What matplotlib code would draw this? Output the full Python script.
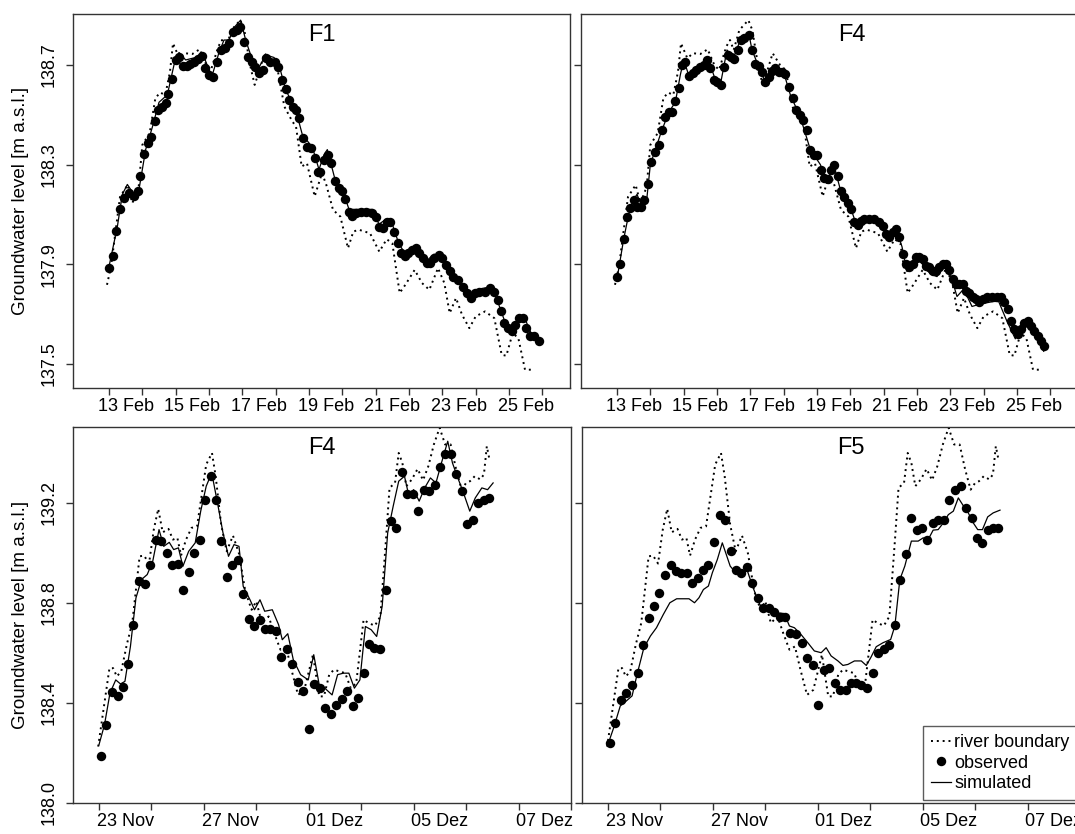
import matplotlib
matplotlib.use("Agg")
import matplotlib.pyplot as plt
from matplotlib.lines import Line2D

plt.rcParams['font.family'] = ['Liberation Sans', 'DejaVu Sans']

# ---------------- data (days after 13 Feb 00:00) ----------------
feb_labels = ["13 Feb", "15 Feb", "17 Feb", "19 Feb", "21 Feb", "23 Feb", "25 Feb"]

feb_river_day = [-0.06, 0.06, 0.33, 0.56, 0.7, 0.89, 1.0, 1.22, 1.39, 1.53, 1.69, 1.83, 1.92, 2.11, 2.28, 2.5,
                 2.72, 2.92, 3.06, 3.28, 3.39, 3.5, 3.67, 3.94, 4.06, 4.22, 4.37, 4.5, 4.67, 4.89, 5.06, 5.26,
                 5.5, 5.61, 5.78, 5.94, 6.17, 6.39, 6.52, 6.72, 6.94, 7.17, 7.33, 7.5, 7.83, 8.11, 8.33, 8.5,
                 8.72, 8.89, 9.17, 9.39, 9.61, 9.87, 10.06, 10.22, 10.41, 10.59, 10.81, 11.0, 11.28, 11.56,
                 11.78, 11.92, 12.11, 12.28, 12.48, 12.72]
feb_river = [137.817, 137.89, 138.17, 138.218, 138.145, 138.21, 138.379, 138.426, 138.566, 138.589, 138.58,
             138.673, 138.787, 138.727, 138.747, 138.744, 138.763, 138.70, 138.68, 138.774, 138.80, 138.76,
             138.84, 138.88, 138.84, 138.707, 138.62, 138.673, 138.747, 138.70, 138.68, 138.533, 138.473,
             138.453, 138.292, 138.305, 138.172, 138.266, 138.218, 138.118, 138.091, 137.964, 138.031,
             138.038, 138.024, 137.95, 138.0, 137.984, 137.784, 137.817, 137.877, 137.824, 137.797, 137.884,
             137.824, 137.703, 137.764, 137.697, 137.643, 137.69, 137.71, 137.683, 137.536, 137.532, 137.623,
             137.603, 137.476, 137.476]

feb_obs_day_F1 = [0.0, 0.11, 0.22, 0.33, 0.44, 0.61, 0.74, 0.86, 0.94, 1.06, 1.17, 1.26, 1.37, 1.48, 1.59,
                  1.70, 1.78, 1.89, 2.0, 2.11, 2.22, 2.33, 2.44, 2.56, 2.67, 2.78, 2.89, 3.0, 3.11, 3.24,
                  3.36, 3.47, 3.61, 3.72, 3.83, 3.94, 4.06, 4.17, 4.28, 4.39, 4.5, 4.61, 4.72, 4.83, 4.97,
                  5.08, 5.19, 5.3, 5.41, 5.52, 5.61, 5.70, 5.83, 5.94, 6.06, 6.17, 6.26, 6.34, 6.46, 6.57,
                  6.67, 6.78, 6.89, 7.0, 7.09, 7.19, 7.30, 7.41, 7.56, 7.72, 7.89, 8.0, 8.11, 8.22, 8.33,
                  8.44, 8.56, 8.67, 8.76, 8.87, 8.98, 9.09, 9.2, 9.31, 9.42, 9.53, 9.64, 9.76, 9.89, 10.0,
                  10.11, 10.22, 10.33, 10.48, 10.61, 10.74, 10.86, 10.97, 11.11, 11.28, 11.44, 11.56, 11.67,
                  11.76, 11.86, 11.97, 12.08, 12.19, 12.3, 12.41, 12.52, 12.63, 12.74, 12.89]
feb_obs_F1 = [137.884, 137.933, 138.034, 138.122, 138.165, 138.185, 138.172, 138.192, 138.252, 138.343,
              138.386, 138.412, 138.473, 138.519, 138.533, 138.546, 138.582, 138.642, 138.72, 138.733,
              138.696, 138.696, 138.704, 138.713, 138.723, 138.736, 138.687, 138.66, 138.653, 138.713,
              138.76, 138.77, 138.787, 138.834, 138.84, 138.854, 138.794, 138.733, 138.713, 138.693,
              138.667, 138.68, 138.727, 138.713, 138.713, 138.693, 138.64, 138.602, 138.56, 138.533,
              138.519, 138.486, 138.406, 138.372, 138.366, 138.326, 138.272, 138.272, 138.319, 138.339,
              138.305, 138.232, 138.205, 138.192, 138.161, 138.111, 138.094, 138.107, 138.111, 138.111,
              138.105, 138.091, 138.051, 138.044, 138.071, 138.071, 138.031, 137.984, 137.944, 137.931,
              137.944, 137.958, 137.964, 137.944, 137.924, 137.904, 137.904, 137.924, 137.937, 137.924,
              137.897, 137.871, 137.85, 137.837, 137.81, 137.784, 137.764, 137.786, 137.79, 137.79,
              137.804, 137.79, 137.757, 137.71, 137.663, 137.643, 137.63, 137.657, 137.682, 137.682,
              137.643, 137.61, 137.61, 137.59]

feb_sim_day_F1 = [0.0, 0.25, 0.4, 0.55, 0.75, 0.9, 1.1, 1.3, 1.5, 1.75, 1.95, 2.1, 2.3, 2.6, 2.8, 3.0, 3.1,
                  3.3, 3.45, 3.6, 3.75, 3.95, 4.1, 4.3, 4.5, 4.7, 4.95, 5.1, 5.3, 5.6, 5.8, 6.1, 6.3, 6.45,
                  6.55, 6.8, 7.0, 7.2, 7.4, 7.9, 8.1, 8.3, 8.45, 8.7, 8.9, 9.2, 9.5, 9.75, 10.0, 10.3, 10.6,
                  10.85, 11.1, 11.5, 11.9, 12.1, 12.3, 12.45, 12.7, 12.9]
feb_sim_F1 = [137.89, 138.05, 138.18, 138.22, 138.18, 138.20, 138.36, 138.45, 138.55, 138.58, 138.70, 138.75,
              138.72, 138.73, 138.75, 138.68, 138.66, 138.75, 138.80, 138.80, 138.85, 138.88, 138.80, 138.72,
              138.69, 138.74, 138.73, 138.70, 138.60, 138.52, 138.42, 138.37, 138.28, 138.34, 138.36, 138.23,
              138.20, 138.12, 138.12, 138.12, 138.06, 138.08, 138.08, 137.98, 137.94, 137.97, 137.91, 137.94,
              137.93, 137.86, 137.81, 137.77, 137.80, 137.81, 137.66, 137.63, 137.69, 137.69, 137.61, 137.59]

feb_obs_day_F4 = [0.0, 0.1, 0.2, 0.3, 0.4, 0.5, 0.6, 0.73, 0.82, 0.92, 1.02, 1.15, 1.25, 1.35, 1.45, 1.55,
                  1.65, 1.75, 1.85, 1.95, 2.05, 2.17, 2.27, 2.37, 2.5, 2.6, 2.7, 2.8, 2.9, 3.0, 3.12, 3.22,
                  3.32, 3.42, 3.52, 3.62, 3.72, 3.82, 3.95, 4.05, 4.15, 4.25, 4.35, 4.45, 4.55, 4.65, 4.75,
                  4.85, 4.95, 5.05, 5.15, 5.28, 5.38, 5.48, 5.58, 5.7, 5.8, 5.9, 6.0, 6.12, 6.22, 6.32, 6.42,
                  6.52, 6.62, 6.72, 6.82, 6.92, 7.02, 7.12, 7.22, 7.32, 7.42, 7.55, 7.7, 7.85, 7.97, 8.07,
                  8.17, 8.27, 8.37, 8.47, 8.57, 8.67, 8.77, 8.87, 8.97, 9.07, 9.17, 9.27, 9.37, 9.47, 9.57,
                  9.67, 9.77, 9.87, 9.97, 10.07, 10.17, 10.27, 10.37, 10.47, 10.57, 10.67, 10.77, 10.87,
                  10.97, 11.1, 11.25, 11.4, 11.52, 11.62, 11.72, 11.82, 11.92, 12.02, 12.12, 12.22, 12.32,
                  12.42, 12.52, 12.62, 12.72, 12.82]
feb_obs_F4 = [137.847, 137.90, 138.0, 138.089, 138.127, 138.159, 138.129, 138.129, 138.159, 138.22, 138.311,
              138.351, 138.38, 138.44, 138.489, 138.513, 138.513, 138.556, 138.609, 138.70, 138.711, 138.657,
              138.669, 138.68, 138.693, 138.70, 138.72, 138.687, 138.64, 138.633, 138.62, 138.693, 138.74,
              138.733, 138.724, 138.76, 138.80, 138.807, 138.82, 138.76, 138.703, 138.696, 138.671, 138.633,
              138.653, 138.676, 138.689, 138.673, 138.671, 138.663, 138.613, 138.567, 138.52, 138.50, 138.48,
              138.44, 138.36, 138.34, 138.34, 138.28, 138.244, 138.24, 138.28, 138.30, 138.253, 138.193,
              138.169, 138.147, 138.12, 138.071, 138.057, 138.073, 138.08, 138.08, 138.08, 138.071, 138.053,
              138.02, 138.009, 138.029, 138.04, 138.009, 137.94, 137.90, 137.887, 137.90, 137.927, 137.927,
              137.92, 137.893, 137.887, 137.873, 137.873, 137.887, 137.90, 137.90, 137.876, 137.84, 137.82,
              137.82, 137.82, 137.793, 137.783, 137.769, 137.76, 137.747, 137.76, 137.769, 137.769, 137.769,
              137.767, 137.747, 137.72, 137.671, 137.64, 137.62, 137.64, 137.663, 137.671, 137.653, 137.633,
              137.613, 137.593, 137.573]

feb_sim_day_F4 = [0.0, 0.2, 0.35, 0.5, 0.6, 0.75, 0.9, 1.0, 1.3, 1.55, 1.75, 1.9, 2.0, 2.15, 2.6, 2.75, 2.95,
                  3.1, 3.3, 3.5, 3.7, 3.95, 4.05, 4.35, 4.5, 4.7, 5.0, 5.2, 5.5, 5.8, 6.1, 6.3, 6.5, 6.7, 7.0,
                  7.2, 7.35, 7.9, 8.2, 8.4, 8.55, 8.7, 8.9, 9.1, 9.4, 9.6, 9.85, 10.0, 10.2, 10.4, 10.65,
                  10.9, 11.3, 11.45, 11.7, 11.95, 12.2, 12.4, 12.6, 12.8]
feb_sim_F4 = [137.84, 138.0, 138.10, 138.16, 138.18, 138.13, 138.17, 138.30, 138.42, 138.51, 138.55, 138.66,
              138.72, 138.66, 138.70, 138.72, 138.64, 138.62, 138.76, 138.73, 138.80, 138.83, 138.76, 138.66,
              138.62, 138.69, 138.67, 138.58, 138.49, 138.36, 138.30, 138.23, 138.30, 138.20, 138.13, 138.05,
              138.08, 138.06, 138.01, 138.03, 137.97, 137.87, 137.90, 137.91, 137.86, 137.85, 137.90, 137.86,
              137.77, 137.80, 137.73, 137.74, 137.75, 137.75, 137.67, 137.60, 137.66, 137.64, 137.60, 137.55]

# ---------------- data (days after 22 Nov 00:00) ----------------
nov_labels = ["23 Nov", "27 Nov", "01 Dez", "05 Dez", "07 Dez"]

nov_river_day = [-0.03, 0.40, 0.54, 0.68, 0.85, 1.06, 1.27, 1.55, 1.72, 1.91, 2.09, 2.26, 2.43, 2.65, 2.82,
                 2.99, 3.13, 3.32, 3.53, 3.74, 4.09, 4.31, 4.45, 4.66, 4.87, 5.11, 5.34, 5.58, 5.82, 6.0,
                 6.21, 6.47, 6.66, 6.92, 7.13, 7.34, 7.59, 7.83, 8.16, 8.4, 8.58, 8.78, 8.96, 9.17, 9.39,
                 9.6, 9.81, 10.09, 10.28, 10.52, 10.73, 10.94, 11.08, 11.29, 11.43, 11.57, 11.72, 11.93,
                 12.15, 12.36, 12.56, 12.77, 12.99, 13.2, 13.41, 13.62, 13.83, 14.0, 14.15, 14.33, 14.54,
                 14.68, 14.79, 14.89]
nov_river = [138.224, 138.538, 138.538, 138.505, 138.525, 138.632, 138.719, 138.986, 138.989, 138.957,
             139.093, 139.176, 139.082, 139.096, 139.053, 139.06, 138.989, 139.053, 139.1, 139.106, 139.354,
             139.40, 139.307, 139.113, 139.006, 139.069, 138.997, 138.846, 138.772, 138.806, 138.719, 138.745,
             138.685, 138.612, 138.625, 138.532, 138.431, 138.451, 138.592, 138.425, 138.425, 138.512,
             138.532, 138.525, 138.518, 138.458, 138.478, 138.732, 138.719, 138.708, 138.745, 139.046, 139.26,
             139.28, 139.40, 139.36, 139.267, 139.294, 139.336, 139.291, 139.347, 139.434, 139.501, 139.434,
             139.434, 139.334, 139.253, 139.28, 139.287, 139.307, 139.294, 139.314, 139.427, 139.374]

nov_obs_day_F4 = [0.07, 0.28, 0.49, 0.71, 0.92, 1.10, 1.31, 1.52, 1.74, 1.95, 2.16, 2.37, 2.58, 2.80, 3.01,
                  3.20, 3.42, 3.63, 3.84, 4.05, 4.26, 4.47, 4.66, 4.87, 5.08, 5.29, 5.50, 5.72, 5.93, 6.14,
                  6.32, 6.53, 6.74, 6.96, 7.17, 7.38, 7.59, 7.79, 8.02, 8.21, 8.41, 8.62, 8.84, 9.05, 9.26,
                  9.47, 9.67, 9.88, 10.09, 10.28, 10.49, 10.73, 10.94, 11.15, 11.33, 11.55, 11.76, 11.97,
                  12.18, 12.39, 12.59, 12.80, 13.01, 13.20, 13.41, 13.62, 13.83, 14.04, 14.26, 14.47,
                  14.68, 14.89]
nov_obs_F4 = [138.188, 138.311, 138.441, 138.427, 138.462, 138.556, 138.712, 138.886, 138.876, 138.953,
              139.05, 139.046, 138.999, 138.953, 138.957, 138.852, 138.923, 138.999, 139.05, 139.213, 139.307,
              139.213, 139.046, 138.903, 138.953, 138.973, 138.836, 138.735, 138.705, 138.729, 138.695,
              138.695, 138.685, 138.582, 138.614, 138.556, 138.481, 138.445, 138.294, 138.475, 138.458,
              138.378, 138.355, 138.391, 138.414, 138.447, 138.387, 138.418, 138.518, 138.634, 138.618,
              138.614, 138.852, 139.129, 139.10, 139.323, 139.236, 139.236, 139.167, 139.253, 139.247,
              139.27, 139.344, 139.397, 139.397, 139.316, 139.247, 139.117, 139.133, 139.20, 139.211, 139.22]

nov_sim_day_F4 = [0.0, 0.21, 0.42, 0.64, 0.82, 0.99, 1.2, 1.41, 1.62, 1.84, 2.05, 2.29, 2.47, 2.68, 2.85,
                  3.03, 3.20, 3.42, 3.67, 3.88, 4.09, 4.30, 4.52, 4.73, 4.94, 5.15, 5.34, 5.5, 5.76, 5.93,
                  6.14, 6.32, 6.61, 6.85, 6.99, 7.2, 7.41, 7.69, 7.98, 8.19, 8.4, 8.61, 8.89, 9.1, 9.32,
                  9.53, 9.74, 9.95, 10.16, 10.38, 10.59, 10.8, 11.01, 11.22, 11.43, 11.65, 11.82, 12.0,
                  12.21, 12.42, 12.64, 12.85, 13.06, 13.3, 13.48, 13.66, 13.9, 14.14, 14.35, 14.6, 14.82,
                  15.03]
nov_sim_F4 = [138.231, 138.311, 138.438, 138.491, 138.475, 138.485, 138.625, 138.819, 138.893, 138.913,
              138.966, 139.093, 139.026, 139.042, 139.013, 139.02, 138.946, 139.006, 139.04, 139.167, 139.267,
              139.32, 139.20, 139.08, 138.986, 139.033, 139.026, 138.866, 138.812, 138.772, 138.812, 138.766,
              138.772, 138.712, 138.652, 138.676, 138.572, 138.512, 138.491, 138.592, 138.471, 138.458,
              138.431, 138.512, 138.518, 138.518, 138.458, 138.491, 138.705, 138.692, 138.665, 138.786,
              139.08, 139.187, 139.287, 139.307, 139.227, 139.253, 139.207, 139.26, 139.30, 139.28, 139.36,
              139.447, 139.36, 139.307, 139.24, 139.167, 139.22, 139.26, 139.253, 139.28]

nov_obs_day_F5 = [0.06, 0.28, 0.50, 0.70, 0.92, 1.14, 1.34, 1.56, 1.75, 1.96, 2.17, 2.39, 2.6, 2.79, 3.0,
                  3.22, 3.43, 3.64, 3.83, 4.05, 4.27, 4.47, 4.68, 4.89, 5.09, 5.30, 5.51, 5.73, 5.93, 6.15,
                  6.34, 6.56, 6.76, 6.95, 7.17, 7.39, 7.59, 7.81, 8.0, 8.23, 8.42, 8.64, 8.85, 9.06, 9.28,
                  9.47, 9.66, 9.89, 10.11, 10.3, 10.51, 10.72, 10.94, 11.13, 11.36, 11.57, 11.77, 11.96,
                  12.17, 12.38, 12.59, 12.81, 13.02, 13.23, 13.45, 13.65, 13.87, 14.06, 14.28, 14.48,
                  14.68, 14.89]
nov_obs_F5 = [138.24, 138.32, 138.409, 138.44, 138.469, 138.52, 138.629, 138.74, 138.789, 138.84, 138.911,
              138.951, 138.929, 138.92, 138.92, 138.88, 138.90, 138.931, 138.951, 139.043, 139.151, 139.131,
              139.009, 138.933, 138.92, 138.943, 138.88, 138.82, 138.78, 138.78, 138.763, 138.744, 138.744,
              138.68, 138.673, 138.64, 138.58, 138.549, 138.389, 138.531, 138.54, 138.48, 138.449, 138.449,
              138.477, 138.477, 138.469, 138.46, 138.52, 138.60, 138.613, 138.629, 138.709, 138.891, 138.997,
              139.14, 139.091, 139.10, 139.051, 139.12, 139.131, 139.131, 139.211, 139.251, 139.269, 139.18,
              139.14, 139.06, 139.04, 139.091, 139.10, 139.10]

nov_sim_day_F5 = [0.0, 0.22, 0.47, 0.66, 0.92, 1.11, 1.37, 1.62, 1.85, 2.11, 2.36, 2.62, 2.9, 3.09, 3.30,
                  3.47, 3.64, 3.83, 3.98, 4.17, 4.36, 4.49, 4.66, 4.87, 5.07, 5.30, 5.51, 5.73, 5.89, 6.09,
                  6.40, 6.72, 6.92, 7.11, 7.36, 7.62, 7.87, 8.13, 8.32, 8.51, 8.77, 8.96, 9.15, 9.40, 9.66,
                  9.85, 10.02, 10.23, 10.49, 10.78, 10.94, 11.13, 11.32, 11.57, 11.83, 12.02, 12.21, 12.40,
                  12.59, 12.79, 12.98, 13.17, 13.36, 13.56, 13.74, 13.93, 14.10, 14.28, 14.48, 14.69, 14.95]
nov_sim_F5 = [138.233, 138.30, 138.387, 138.403, 138.427, 138.513, 138.62, 138.667, 138.70, 138.753, 138.80,
              138.816, 138.816, 138.816, 138.80, 138.82, 138.853, 138.867, 138.92, 138.973, 139.04, 139.0,
              138.947, 138.92, 138.907, 138.933, 138.867, 138.807, 138.773, 138.767, 138.76, 138.757,
              138.707, 138.70, 138.673, 138.64, 138.607, 138.60, 138.62, 138.587, 138.567, 138.549, 138.553,
              138.567, 138.567, 138.549, 138.58, 138.624, 138.64, 138.653, 138.707, 138.893, 138.947, 139.047,
              139.047, 139.06, 139.053, 139.091, 139.093, 139.12, 139.153, 139.167, 139.22, 139.187, 139.16,
              139.12, 139.093, 139.093, 139.144, 139.16, 139.171]

legend_labels = ["river boundary", "observed", "simulated"]

# ---------------- figure ----------------
W, H = 1075, 834
fig = plt.figure(figsize=(W / 100, H / 100), dpi=100)


def px_axes(left, top, right, bottom):
    return fig.add_axes([left / W, 1 - bottom / H, (right - left) / W, (bottom - top) / H])


ax_tl = px_axes(73, 14, 570, 388)
ax_tr = px_axes(581, 14, 1078, 388)
ax_bl = px_axes(73, 427, 571, 803)
ax_br = px_axes(582, 427, 1080, 803)

RIVER_STYLE = dict(color='black', lw=1.4, linestyle=(0, (1.0, 2.0)), dash_capstyle='butt')
SIM_STYLE = dict(color='black', lw=0.9)
OBS_STYLE = dict(color='black', marker='o', linestyle='none', markersize=6.8, markeredgewidth=0)


def style(ax, ylim, yticks, show_ylabels):
    for s in ax.spines.values():
        s.set_linewidth(1.0)
        s.set_color('#333333')
    ax.set_ylim(*ylim)
    ax.set_yticks(yticks)
    if show_ylabels:
        ax.set_yticklabels([f"{v:.1f}" for v in yticks], rotation=90, va='center')
    else:
        ax.set_yticklabels([])
    ax.tick_params(axis='y', which='major', direction='out', length=5, width=1.0, color='#333333',
                   labelsize=13, pad=6)
    ax.tick_params(axis='x', which='major', direction='out', length=5, width=1.0, color='#333333',
                   labelbottom=False)
    ax.tick_params(axis='x', which='minor', length=0, labelsize=13, pad=7)


def draw_panel(ax, river_d, river_v, obs_d, obs_v, sim_d, sim_v, title, tx, show_ylabels,
               xlim, major, label_pos, labels, ylim, yticks):
    ax.plot(river_d, river_v, **RIVER_STYLE)
    ax.plot(sim_d, sim_v, **SIM_STYLE)
    ax.plot(obs_d, obs_v, **OBS_STYLE)
    ax.set_xlim(*xlim)
    ax.set_xticks(major)
    ax.set_xticks(label_pos, minor=True)
    ax.set_xticklabels(labels, minor=True)
    style(ax, ylim, yticks, show_ylabels)
    ax.text(tx, 0.945, title, transform=ax.transAxes, ha='center', va='center', fontsize=17)


feb_kw = dict(xlim=(-1.08, 13.83), major=list(range(0, 14)),
              label_pos=[0.5 + 2 * i for i in range(len(feb_labels))], labels=feb_labels,
              ylim=(137.4025, 138.9046), yticks=[137.5, 137.9, 138.3, 138.7])
nov_kw = dict(xlim=(-0.99, 18.0), major=list(range(0, 19, 2)),
              label_pos=[1 + 4 * i for i in range(len(nov_labels))], labels=nov_labels,
              ylim=(137.998, 139.504), yticks=[138.0, 138.4, 138.8, 139.2])

draw_panel(ax_tl, feb_river_day, feb_river, feb_obs_day_F1, feb_obs_F1, feb_sim_day_F1, feb_sim_F1,
           "F1", 0.50, True, **feb_kw)
draw_panel(ax_tr, feb_river_day, feb_river, feb_obs_day_F4, feb_obs_F4, feb_sim_day_F4, feb_sim_F4,
           "F4", 0.545, False, **feb_kw)
draw_panel(ax_bl, nov_river_day, nov_river, nov_obs_day_F4, nov_obs_F4, nov_sim_day_F4, nov_sim_F4,
           "F4", 0.50, True, **nov_kw)
draw_panel(ax_br, nov_river_day, nov_river, nov_obs_day_F5, nov_obs_F5, nov_sim_day_F5, nov_sim_F5,
           "F5", 0.54, False, **nov_kw)

for yc in [(14 + 388) / 2, (427 + 803) / 2]:
    fig.text(21 / W, 1 - yc / H, "Groundwater level [m a.s.l.]", rotation=90, ha='center', va='center',
             fontsize=13.5)

handles = [Line2D([], [], **RIVER_STYLE),
           Line2D([], [], **OBS_STYLE),
           Line2D([], [], **SIM_STYLE)]
leg = ax_br.legend(handles, legend_labels, loc='upper left', bbox_to_anchor=(0.684, 0.205),
                   borderaxespad=0, fontsize=13, frameon=True, fancybox=False,
                   handlelength=1.1, handletextpad=0.2, labelspacing=0.2, borderpad=0.45,
                   numpoints=1)
leg.get_frame().set_edgecolor('#333333')
leg.get_frame().set_linewidth(1.0)

fig.savefig("out.png", dpi=100)
